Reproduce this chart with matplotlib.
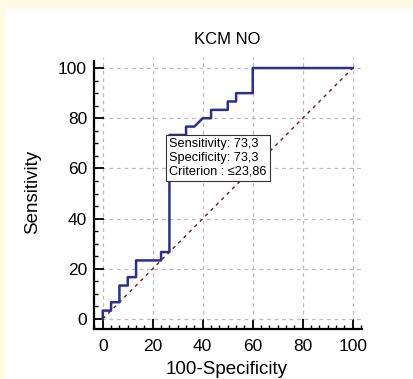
import matplotlib
matplotlib.use("Agg")
import matplotlib.pyplot as plt
from matplotlib.patches import Rectangle
from matplotlib.ticker import MultipleLocator

plt.rcParams["font.family"] = ["Liberation Sans", "DejaVu Sans"]

# ROC step curve (100-Specificity, Sensitivity)
FPR = [0, 0, 3.33, 3.33, 6.67, 6.67, 10, 10, 13.33, 13.33, 23.33, 23.33, 26.67, 26.67,
       33.33, 33.33, 36.67, 40, 43.33, 43.33, 50, 50, 53.33, 53.33, 60, 60, 100]
TPR = [0, 3.33, 3.33, 6.67, 6.67, 13.33, 13.33, 16.67, 16.67, 23.33, 23.33, 26.67, 26.67, 73.33,
       73.33, 76.67, 76.67, 80, 80, 83.33, 83.33, 86.67, 86.67, 90, 90, 100, 100]
CUT_X, CUT_Y = 26.67, 73.33
INFO = ["Sensitivity: 73,3", "Specificity: 73,3", "Criterion : \u226423,86"]
TICKS = [0, 20, 40, 60, 80, 100]

CREAM = "#fffbe6"
BLUE = "#2b2f8f"
RED = "#8b1010"

W, H = 414, 379
fig = plt.figure(figsize=(W / 100, H / 100), dpi=100, facecolor=CREAM)
fig.patches.append(Rectangle((5 / W, 0), 1, 1 - 9 / H, transform=fig.transFigure,
                             facecolor="white", edgecolor="none", zorder=-10))

ax = fig.add_axes([94 / W, 1 - 329 / H, (362 - 94) / W, (329 - 57) / H])
ax.set_facecolor("none")
ax.set_xlim(-3.5, 103.7)
ax.set_ylim(-4, 104.4)

ax.plot([0, 100], [0, 100], color=RED, lw=1.0, ls=(0, (2.5, 3)), zorder=2)
ax.plot(FPR, TPR, color=BLUE, lw=1.8, zorder=3)

ax.set_xticks(TICKS)
ax.set_yticks(TICKS)
ax.xaxis.set_minor_locator(MultipleLocator(20 / 6))
ax.yaxis.set_minor_locator(MultipleLocator(5))
ax.grid(True, which="major", color="#bcbcbc", ls=(0, (3, 3)), lw=0.9, zorder=1)
for s in ["top", "right"]:
    ax.spines[s].set_visible(False)
for s in ["left", "bottom"]:
    ax.spines[s].set_linewidth(1.6)
ax.spines["left"].set_bounds(-4, 102.8)
ax.tick_params(which="major", direction="in", length=7, width=1.3, labelsize=12.5, pad=5)
ax.tick_params(which="minor", direction="in", length=3, width=1.0)
ax.tick_params(axis="x", which="major", pad=7)

ax.annotate("\n".join(INFO), xy=(CUT_X, CUT_Y), xytext=(0, -2), textcoords="offset points",
            ha="left", va="top", fontsize=9.2, linespacing=1.2, zorder=5,
            bbox=dict(boxstyle="square,pad=0.25", facecolor="white", edgecolor="#333333", lw=0.8))

fig.text(227 / W, 1 - 40 / H, "KCM NO", ha="center", va="center", fontsize=12)
fig.text(227 / W, 1 - 369 / H, "100-Specificity", ha="center", va="center", fontsize=13.5)
fig.text(33 / W, 1 - 192 / H, "Sensitivity", ha="center", va="center", rotation=90, fontsize=13.5)

fig.savefig("out.png", dpi=100, facecolor=CREAM)
